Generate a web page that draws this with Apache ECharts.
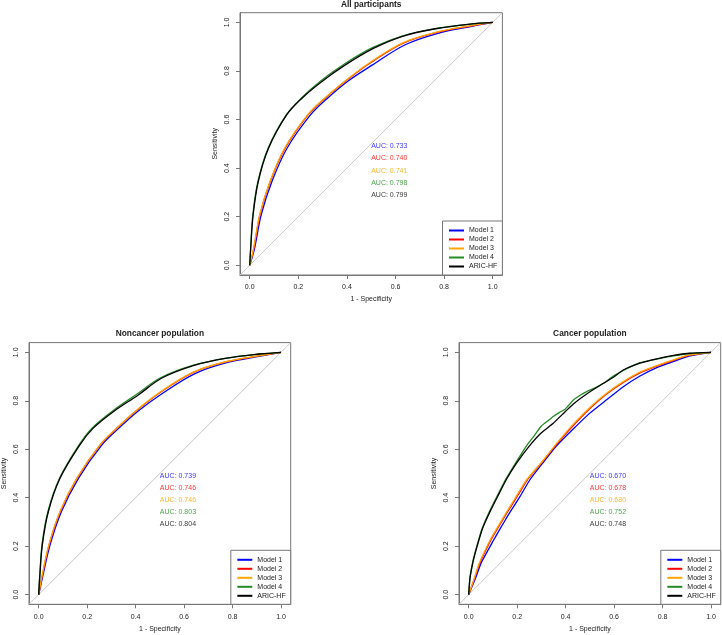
<!DOCTYPE html>
<html>
<head>
<meta charset="utf-8">
<script src="https://cdn.jsdelivr.net/npm/echarts@6/dist/echarts.min.js"></script>
<style>
html,body{margin:0;padding:0;background:#fff;}
#chart{width:722px;height:635px;}
</style>
</head>
<body>
<div id="chart"></div>
<script>
// ---------- data ----------
const modelNames = ['Model 1', 'Model 2', 'Model 3', 'Model 4', 'ARIC-HF'];
const panelTitles = ['All participants', 'Noncancer population', 'Cancer population'];
const tickValues = [0, 0.2, 0.4, 0.6, 0.8, 1.0];
const xAxisTitle = '1 - Specificity';
const yAxisTitle = 'Sensitivity';

// AUC values (Model 1..4, ARIC-HF)
const allAuc = [0.733, 0.740, 0.741, 0.798, 0.799];
const noncancerAuc = [0.739, 0.746, 0.746, 0.803, 0.804];
const cancerAuc = [0.670, 0.678, 0.680, 0.752, 0.748];

// ROC curves, [1 - specificity, sensitivity]
const allM1 = [[0,0],[0.020,0.070],[0.047,0.207],[0.091,0.344],[0.153,0.481],[0.250,0.619],[0.319,0.687],[0.401,0.756],[0.504,0.824],[0.640,0.908],[0.775,0.955],[0.910,0.983],[1,1]];
const allM2 = [[0,0],[0.017,0.070],[0.042,0.207],[0.084,0.344],[0.145,0.481],[0.240,0.619],[0.309,0.687],[0.391,0.756],[0.494,0.832],[0.632,0.915],[0.770,0.959],[0.907,0.985],[1,1]];
const allM3 = [[0,0],[0.016,0.070],[0.041,0.207],[0.083,0.344],[0.143,0.481],[0.238,0.619],[0.307,0.687],[0.389,0.756],[0.492,0.833],[0.630,0.916],[0.770,0.960],[0.907,0.986],[1,1]];
const allM4 = [[0,0],[0.004,0.072],[0.013,0.210],[0.034,0.346],[0.076,0.483],[0.151,0.620],[0.213,0.689],[0.293,0.760],[0.388,0.828],[0.505,0.896],[0.630,0.945],[0.770,0.975],[0.907,0.993],[1,1]];
const allAric = [[0,0],[0.004,0.070],[0.014,0.207],[0.035,0.344],[0.077,0.481],[0.152,0.619],[0.214,0.687],[0.296,0.756],[0.392,0.824],[0.509,0.893],[0.632,0.944],[0.770,0.975],[0.907,0.993],[1,1]];

const nonM1 = [[0,0],[0.015,0.068],[0.047,0.205],[0.094,0.343],[0.164,0.480],[0.261,0.618],[0.331,0.687],[0.407,0.755],[0.510,0.830],[0.645,0.912],[0.780,0.958],[0.915,0.984],[1,1]];
const nonM2 = [[0,0],[0.013,0.068],[0.043,0.205],[0.089,0.343],[0.158,0.480],[0.254,0.618],[0.323,0.687],[0.398,0.755],[0.501,0.834],[0.638,0.917],[0.776,0.961],[0.913,0.986],[1,1]];
const nonM3 = [[0,0],[0.012,0.068],[0.042,0.205],[0.088,0.343],[0.157,0.480],[0.253,0.618],[0.322,0.687],[0.397,0.755],[0.500,0.835],[0.638,0.918],[0.776,0.962],[0.913,0.986],[1,1]];
const nonM4 = [[0,0],[0.004,0.070],[0.014,0.208],[0.039,0.346],[0.087,0.482],[0.168,0.620],[0.223,0.690],[0.305,0.758],[0.406,0.828],[0.503,0.895],[0.636,0.946],[0.776,0.976],[0.913,0.993],[1,1]];
const nonAric = [[0,0],[0.004,0.068],[0.015,0.205],[0.040,0.343],[0.088,0.480],[0.170,0.618],[0.225,0.687],[0.308,0.755],[0.411,0.824],[0.507,0.893],[0.638,0.945],[0.776,0.976],[0.913,0.993],[1,1]];

const canM1 = [[0,0],[0.028,0.067],[0.051,0.130],[0.100,0.220],[0.127,0.267],[0.168,0.336],[0.212,0.405],[0.252,0.473],[0.305,0.542],[0.360,0.611],[0.428,0.680],[0.500,0.749],[0.569,0.804],[0.638,0.858],[0.707,0.902],[0.776,0.937],[0.845,0.962],[0.913,0.985],[1,1]];
const canM2 = [[0,0],[0.024,0.067],[0.046,0.130],[0.090,0.222],[0.115,0.266],[0.157,0.336],[0.200,0.405],[0.242,0.474],[0.301,0.544],[0.356,0.612],[0.419,0.684],[0.500,0.768],[0.569,0.828],[0.638,0.876],[0.707,0.915],[0.776,0.943],[0.845,0.967],[0.913,0.988],[1,1]];
const canM3 = [[0,0],[0.023,0.067],[0.044,0.130],[0.088,0.224],[0.113,0.268],[0.155,0.338],[0.197,0.407],[0.240,0.475],[0.300,0.545],[0.354,0.613],[0.416,0.686],[0.500,0.772],[0.569,0.831],[0.638,0.879],[0.707,0.918],[0.776,0.945],[0.845,0.969],[0.913,0.989],[1,1]];
const canM4 = [[0,0],[0.005,0.068],[0.019,0.145],[0.034,0.202],[0.055,0.272],[0.085,0.342],[0.119,0.410],[0.154,0.478],[0.196,0.547],[0.240,0.616],[0.270,0.655],[0.300,0.696],[0.330,0.720],[0.349,0.735],[0.375,0.752],[0.398,0.765],[0.432,0.803],[0.460,0.823],[0.487,0.838],[0.520,0.852],[0.556,0.872],[0.597,0.902],[0.638,0.925],[0.707,0.957],[0.776,0.972],[0.845,0.985],[0.913,0.995],[1,1]];
const canAric = [[0,0],[0.005,0.065],[0.019,0.140],[0.035,0.200],[0.056,0.270],[0.087,0.340],[0.121,0.408],[0.156,0.476],[0.199,0.545],[0.250,0.613],[0.300,0.668],[0.349,0.707],[0.398,0.755],[0.432,0.787],[0.487,0.828],[0.556,0.872],[0.597,0.897],[0.638,0.927],[0.707,0.955],[0.776,0.973],[0.845,0.987],[0.913,0.996],[1,1]];

// ---------- styling / layout ----------
const FONT = '"Liberation Sans", Arial, Helvetica, sans-serif';
const colors = ['#0000FF', '#FF0000', '#FFA500', '#228B22', '#000000'];
const boxColor = '#777777';
const textColor = '#222222';
const W = 722, H = 635;

const panels = [
  { title: panelTitles[0], curves: [allM1, allM2, allM3, allM4, allAric], auc: allAuc, smooth: 0.35,
    box: { left: 240, top: 12.7, width: 262.4, height: 262.3 }, titleTop: 0.3 },
  { title: panelTitles[1], curves: [nonM1, nonM2, nonM3, nonM4, nonAric], auc: noncancerAuc, smooth: 0.35,
    box: { left: 29, top: 342.6, width: 261.7, height: 261.7 }, titleTop: 329.8 },
  { title: panelTitles[2], curves: [canM1, canM2, canM3, canM4, canAric], auc: cancerAuc, smooth: 0.15,
    box: { left: 459, top: 342.6, width: 261.7, height: 261.7 }, titleTop: 329.8 }
];

const grid = [], xAxis = [], yAxis = [], series = [], title = [], legend = [];

panels.forEach((p, i) => {
  grid.push({ left: p.box.left, top: p.box.top, width: p.box.width, height: p.box.height,
    show: true, borderColor: boxColor, borderWidth: 1, backgroundColor: 'transparent', containLabel: false });

  const common = {
    gridIndex: i, type: 'value', min: -0.04, max: 1.04,
    splitLine: { show: false },
    axisLine: { show: true, onZero: false, lineStyle: { color: boxColor, width: 1 } },
    axisTick: { show: true, inside: false, customValues: tickValues, length: 4, lineStyle: { color: boxColor, width: 1 } },
    nameLocation: 'middle',
    nameTextStyle: { fontFamily: FONT, fontSize: 7, color: textColor },
    nameGap: 21
  };
  xAxis.push(Object.assign({}, common, {
    position: 'bottom',
    name: xAxisTitle,
    axisLabel: { customValues: tickValues, formatter: v => v.toFixed(1), fontFamily: FONT, fontSize: 7, color: textColor, margin: 9 }
  }));
  yAxis.push(Object.assign({}, common, {
    position: 'left',
    name: yAxisTitle, nameRotate: 90,
    axisLabel: { customValues: tickValues, formatter: v => v.toFixed(1), rotate: 90, fontFamily: FONT, fontSize: 7, color: textColor, margin: 9 }
  }));

  // diagonal reference line spanning plot region
  series.push({ type: 'line', name: 'ref' + i, xAxisIndex: i, yAxisIndex: i, showSymbol: false, silent: true,
    data: [[-0.04, -0.04], [1.04, 1.04]], lineStyle: { color: '#c8c8c8', width: 1 }, z: 1 });

  p.curves.forEach((c, k) => {
    series.push({ type: 'line', name: modelNames[k], xAxisIndex: i, yAxisIndex: i, showSymbol: false,
      smooth: p.smooth,
      data: c, color: colors[k], lineStyle: { color: colors[k], width: 1.3 }, z: 2 + k });
  });

  series.push({ type: 'scatter', name: 'auc' + i, xAxisIndex: i, yAxisIndex: i, symbolSize: 0.01,
    itemStyle: { color: 'rgba(0,0,0,0)' }, silent: true, z: 10,
    data: p.auc.map((a, k) => ({ value: [0.5, 0.49 - 0.05 * k], auc: a,
      label: { color: colors[k] } })),
    label: { show: true, position: 'right', distance: 0, fontFamily: FONT, fontSize: 7,
      formatter: d => 'AUC: ' + d.data.auc.toFixed(3) } });

  title.push({ text: p.title, left: p.box.left + p.box.width / 2, top: p.titleTop, textAlign: 'center', padding: 0,
    textStyle: { fontFamily: FONT, fontSize: 8.4, fontWeight: 'bold', color: textColor } });

  legend.push({ data: modelNames, orient: 'vertical',
    right: W - (p.box.left + p.box.width), bottom: H - (p.box.top + p.box.height),
    backgroundColor: '#ffffff', borderColor: boxColor, borderWidth: 1, borderRadius: 0,
    padding: [5, 5, 4, 6.5], itemGap: 0, itemWidth: 15, itemHeight: 2, icon: 'rect',
    selectedMode: false,
    textStyle: { fontFamily: FONT, fontSize: 7, color: textColor, lineHeight: 9, padding: 0 } });
});

const chart = echarts.init(document.getElementById('chart'), null, { renderer: 'canvas' });
chart.setOption({ animation: false, backgroundColor: '#ffffff', title, legend, grid, xAxis, yAxis, series });
</script>
</body>
</html>
